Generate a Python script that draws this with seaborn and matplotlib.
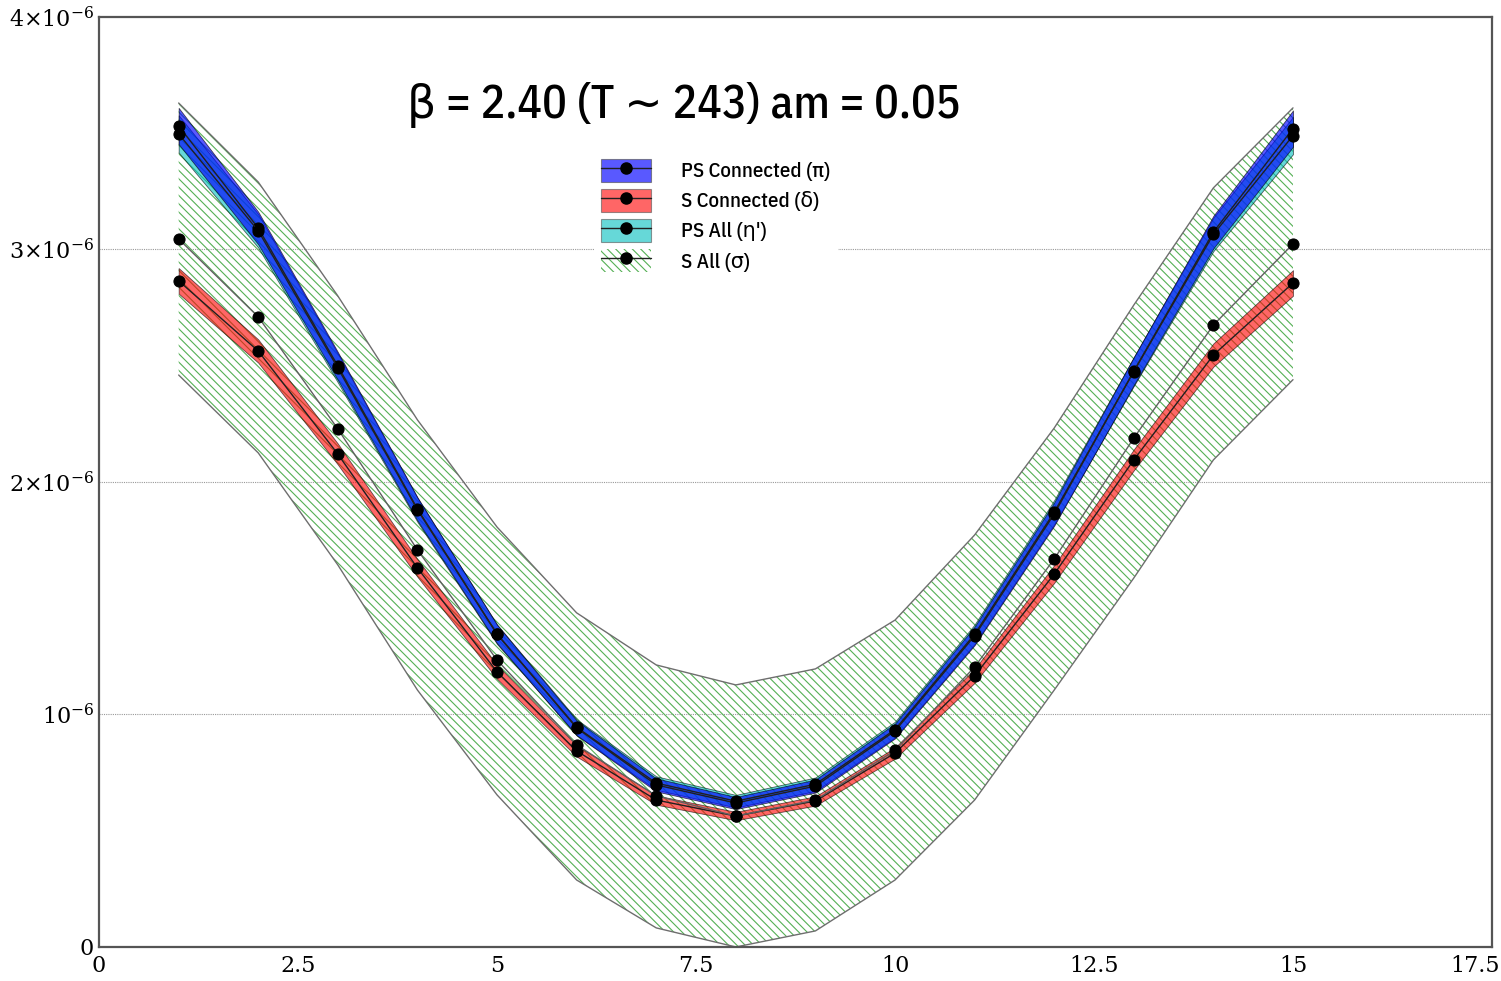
import numpy as np
import pandas as pd
import matplotlib
matplotlib.use("Agg")
import matplotlib.pyplot as plt
import matplotlib.transforms as mtransforms
import seaborn as sns
from matplotlib.patches import Patch
from matplotlib.lines import Line2D
from matplotlib.ticker import FixedLocator, FixedFormatter, MultipleLocator

# ---------------- data (units of 1e-6) ----------------
t = [1, 2, 3, 4, 5, 6, 7, 8, 9, 10, 11, 12, 13, 14, 15]

ps_conn = [3.531, 3.092, 2.499, 1.884, 1.346, 0.942, 0.697, 0.619, 0.692, 0.929, 1.338, 1.862, 2.477, 3.075, 3.52]
ps_conn_err = [0.078, 0.070, 0.060, 0.050, 0.040, 0.032, 0.028, 0.026, 0.028, 0.032, 0.040, 0.050, 0.060, 0.070, 0.078]

s_conn = [2.865, 2.563, 2.120, 1.630, 1.183, 0.843, 0.632, 0.563, 0.628, 0.834, 1.166, 1.604, 2.095, 2.546, 2.856]
s_conn_err = [0.055, 0.050, 0.045, 0.038, 0.030, 0.024, 0.020, 0.018, 0.020, 0.024, 0.030, 0.038, 0.045, 0.050, 0.055]

ps_all = [3.497, 3.080, 2.490, 1.880, 1.345, 0.945, 0.705, 0.627, 0.700, 0.935, 1.345, 1.870, 2.475, 3.065, 3.490]
ps_all_err = [0.080, 0.072, 0.062, 0.052, 0.042, 0.034, 0.029, 0.027, 0.029, 0.034, 0.042, 0.052, 0.062, 0.072, 0.080]

s_all = [3.045, 2.710, 2.228, 1.708, 1.234, 0.869, 0.650, 0.563, 0.632, 0.845, 1.204, 1.669, 2.189, 2.675, 3.024]
s_all_lo = [2.460, 2.125, 1.643, 1.105, 0.654, 0.288, 0.082, 0.000, 0.069, 0.288, 0.632, 1.105, 1.587, 2.095, 2.440]
s_all_hi = [3.630, 3.290, 2.800, 2.267, 1.806, 1.437, 1.213, 1.127, 1.196, 1.406, 1.772, 2.232, 2.761, 3.265, 3.609]

labels = ["PS Connected (\u03c0)", "S Connected (\u03b4)", "PS All (\u03b7')", "S All (\u03c3)"]
title = "\u03b2 = 2.40 (T \u223c 243) am = 0.05"

ytick_vals = [0, 1, 2, 3, 4]
ytick_labels = ["0", r"$10^{-6}$", r"$2{\times}10^{-6}$", r"$3{\times}10^{-6}$", r"$4{\times}10^{-6}$"]
xtick_vals = [0, 2.5, 5, 7.5, 10, 12.5, 15, 17.5]
xtick_labels = ["0", "2.5", "5", "7.5", "10", "12.5", "15", "17.5"]

SC = 1e-6
df = pd.DataFrame({
    "t": t * 4,
    "val": [v * SC for v in ps_conn + s_conn + ps_all + s_all],
    "series": sum([[lab] * len(t) for lab in labels], []),
})

SANS = ["IBM Plex Sans Condensed", "DejaVu Sans"]

# ---------------- figure ----------------
sns.set_style("white")
plt.rcParams["mathtext.fontset"] = "dejavuserif"
plt.rcParams["hatch.linewidth"] = 0.8
plt.rcParams["text.color"] = "black"
plt.rcParams["xtick.labelcolor"] = "black"
plt.rcParams["ytick.labelcolor"] = "black"
fig = plt.figure(figsize=(15.01, 9.81), dpi=100)
ax = fig.add_axes([0.066, 0.0347, 0.928, 0.948])

tt = np.array(t, dtype=float)
HATCH_C = "#55b055"

# S All hatched band
ax.fill_between(tt, np.array(s_all_lo) * SC, np.array(s_all_hi) * SC,
                facecolor="none", edgecolor=HATCH_C, linewidth=0,
                hatch=r"\\\\", zorder=1)
ax.plot(tt, np.array(s_all_lo) * SC, color="#6e6e6e", lw=1.0, zorder=2)
ax.plot(tt, np.array(s_all_hi) * SC, color="#6e6e6e", lw=1.0, zorder=2)

cy = (0.0, 0.75, 0.75)
ax.fill_between(tt, (np.array(ps_all) - ps_all_err) * SC, (np.array(ps_all) + ps_all_err) * SC,
                facecolor=cy, alpha=0.6, edgecolor="k", linewidth=0.6, zorder=3)
ax.fill_between(tt, (np.array(s_conn) - s_conn_err) * SC, (np.array(s_conn) + s_conn_err) * SC,
                facecolor="red", alpha=0.6, edgecolor="k", linewidth=0.6, zorder=3)
ax.fill_between(tt, (np.array(ps_conn) - ps_conn_err) * SC, (np.array(ps_conn) + ps_conn_err) * SC,
                facecolor="blue", alpha=0.65, edgecolor="k", linewidth=0.6, zorder=4)

palette = {labels[0]: "#202020", labels[1]: "#202020", labels[2]: "#202020", labels[3]: "#606060"}
sns.lineplot(data=df, x="t", y="val", hue="series", palette=palette, ax=ax,
             legend=False, lw=1.0, marker="o", markersize=8,
             markerfacecolor="black", markeredgecolor="black", zorder=5,
             sort=False, estimator=None)

# axes styling
ax.set_xlim(0, 17.5)
ax.set_ylim(0, 4 * SC)
ax.yaxis.set_major_locator(FixedLocator([v * SC for v in ytick_vals]))
ax.yaxis.set_major_formatter(FixedFormatter(ytick_labels))
ax.yaxis.set_minor_locator(MultipleLocator(0.2 * SC))
ax.xaxis.set_major_locator(FixedLocator(xtick_vals))
ax.xaxis.set_major_formatter(FixedFormatter(xtick_labels))
ax.xaxis.set_minor_locator(MultipleLocator(0.5))
ax.tick_params(which="both", direction="in", top=False, right=False, color="#444444")
ax.tick_params(which="major", length=8, width=1.2, labelsize=16, labelcolor="black")
ax.tick_params(axis="x", which="major", pad=6)
ax.tick_params(which="minor", length=5, width=1.0)
for s in ax.spines.values():
    s.set_color("#555555")
    s.set_linewidth(1.6)
ax.set_xlabel("")
ax.set_ylabel("")
ax.grid(False)
for v in ytick_vals[1:4]:
    ax.axhline(v * SC, color="#999999", lw=0.8, ls=(0, (1, 1)), zorder=0.5)

fig.canvas.draw()
xl = ax.get_xticklabels()
for lab in xl + ax.get_yticklabels():
    lab.set_fontfamily("DejaVu Serif")
xl[-1].set_horizontalalignment("right")
xl[-1].set_transform(xl[-1].get_transform() + mtransforms.ScaledTranslation(0.08, 0, fig.dpi_scale_trans))

# title inside the plot
ax.text(0.4195, 0.905, title, transform=ax.transAxes, ha="center", va="center",
        fontsize=33, family=SANS, weight=500, color="black", zorder=10)

# legend
def h(fc, alpha, hatch=None):
    if hatch:
        p = Patch(facecolor="white", edgecolor=HATCH_C, hatch=hatch, linewidth=0)
    else:
        p = Patch(facecolor=fc, alpha=alpha, edgecolor="#555555", linewidth=0.8)
    ln = Line2D([], [], color="#202020", lw=1.0, marker="o", markersize=8,
                markerfacecolor="black", markeredgecolor="black")
    return (p, ln)

handles = [h("blue", 0.65), h("red", 0.6), h(cy, 0.6), h(None, None, r"\\\\")]
leg = ax.legend(handles, labels, loc="upper left", bbox_to_anchor=(0.3484, 0.8655),
                frameon=True, framealpha=1.0, edgecolor="white", facecolor="white",
                handlelength=2.4, handleheight=1.35, labelspacing=0.32,
                handletextpad=1.45, borderpad=0.3, labelcolor="black",
                prop={"family": SANS, "size": 15, "weight": 500})
leg.set_zorder(10)

fig.savefig("out.png", dpi=100)
